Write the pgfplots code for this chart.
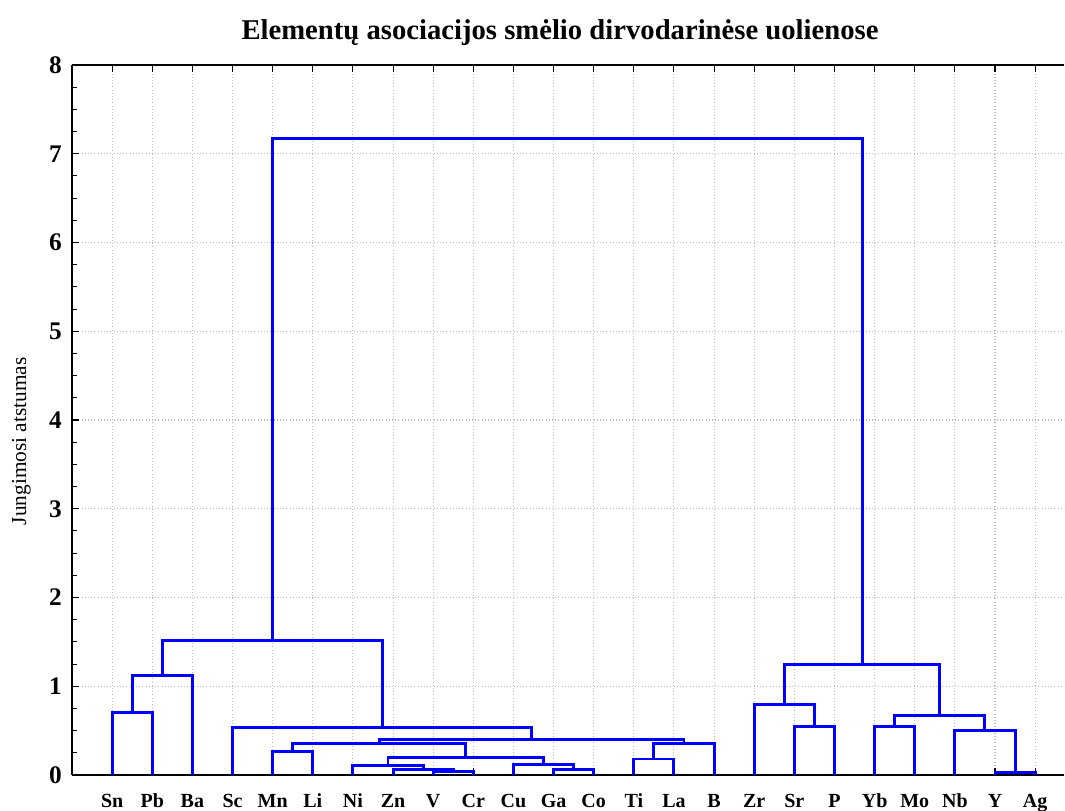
\documentclass[border=0pt]{standalone}
\usepackage{pgfplots}
\pgfplotsset{compat=1.18}
\usetikzlibrary{calc}
\usepackage{fontspec}
\setmainfont{Liberation Serif}
\definecolor{dendblue}{RGB}{0,0,255}
\begin{document}
\begin{tikzpicture}
\begin{axis}[
  scale only axis, width=744pt, height=532.5pt,
  xmin=0, xmax=24.72, ymin=0, ymax=8,
  separate axis lines,
  axis x line*=box, axis y line*=left,
  axis line style={black, line width=1pt},
  xtick={1,...,24},
  xticklabels={Sn,Pb,Ba,Sc,Mn,Li,Ni,Zn,V,Cr,Cu,Ga,Co,Ti,La,B,Zr,Sr,P,Yb,Mo,Nb,Y,Ag},
  x tick label style={font=\bfseries\fontsize{15}{15}\selectfont, anchor=base, yshift=-24.5pt},
  ytick={0,...,8}, minor y tick num=3,
  y tick label style={font=\bfseries\fontsize{19}{19}\selectfont, anchor=east, inner sep=0pt, xshift=-7.5pt},
  /pgf/number format/assume math mode=true,
  grid=major, major grid style={gray!55, dotted, line width=0.8pt},
  tick align=inside, major tick length=5pt, minor tick length=3.5pt,
  tick style={black, line width=0.8pt},
  title={\bfseries\fontsize{21.5}{22}\selectfont Elementų asociacijos smėlio dirvodarinėse uolienose},
  title style={at={(axis description cs:0.5,1)}, anchor=center, yshift=18pt, xshift=-6pt},
  ylabel={Jungimosi atstumas},
  every axis y label/.style={at={(axis description cs:-0.051,0.47)}, rotate=90, anchor=center, font=\fontsize{16}{16}\selectfont},
  dend/.style={color=dendblue, solid, line width=2.2pt, line join=miter, mark=none},
]
% each merge: left leg, crossbar, right leg
\addplot[dend] coordinates {(1,0) (1,0.70) (2,0.70) (2,0)};
\addplot[dend] coordinates {(1.5,0.70) (1.5,1.12) (3,1.12) (3,0)};
\addplot[dend] coordinates {(9,0) (9,0.04) (10,0.04) (10,0)};
\addplot[dend] coordinates {(8,0) (8,0.065) (9.5,0.065) (9.5,0.04)};
\addplot[dend] coordinates {(7,0) (7,0.11) (8.75,0.11) (8.75,0.065)};
\addplot[dend] coordinates {(12,0) (12,0.06) (13,0.06) (13,0)};
\addplot[dend] coordinates {(11,0) (11,0.12) (12.5,0.12) (12.5,0.06)};
\addplot[dend] coordinates {(7.875,0.11) (7.875,0.20) (11.75,0.20) (11.75,0.12)};
\addplot[dend] coordinates {(5,0) (5,0.26) (6,0.26) (6,0)};
\addplot[dend] coordinates {(5.5,0.26) (5.5,0.36) (9.8125,0.36) (9.8125,0.20)};
\addplot[dend] coordinates {(14,0) (14,0.18) (15,0.18) (15,0)};
\addplot[dend] coordinates {(14.5,0.18) (14.5,0.35) (16,0.35) (16,0)};
\addplot[dend] coordinates {(7.65625,0.36) (7.65625,0.405) (15.25,0.405) (15.25,0.35)};
\addplot[dend] coordinates {(4,0) (4,0.54) (11.453125,0.54) (11.453125,0.405)};
\addplot[dend] coordinates {(2.25,1.12) (2.25,1.52) (7.7265625,1.52) (7.7265625,0.54)};
\addplot[dend] coordinates {(18,0) (18,0.55) (19,0.55) (19,0)};
\addplot[dend] coordinates {(17,0) (17,0.79) (18.5,0.79) (18.5,0.55)};
\addplot[dend] coordinates {(20,0) (20,0.55) (21,0.55) (21,0)};
\addplot[dend] coordinates {(23,0) (23,0.025) (24,0.025) (24,0)};
\addplot[dend] coordinates {(22,0) (22,0.50) (23.5,0.50) (23.5,0.025)};
\addplot[dend] coordinates {(20.5,0.55) (20.5,0.67) (22.75,0.67) (22.75,0.50)};
\addplot[dend] coordinates {(17.75,0.79) (17.75,1.25) (21.625,1.25) (21.625,0.67)};
\addplot[dend] coordinates {(4.98828125,1.52) (4.98828125,7.17) (19.6875,7.17) (19.6875,1.25)};
\coordinate (bl) at (rel axis cs:0,0);
\coordinate (tr) at (rel axis cs:1,1);
\end{axis}
\pgfresetboundingbox
\path ($(bl)+(-54pt,-27pt)$) rectangle ($(tr)+(0.75pt,48.75pt)$);
\end{tikzpicture}
\end{document}
